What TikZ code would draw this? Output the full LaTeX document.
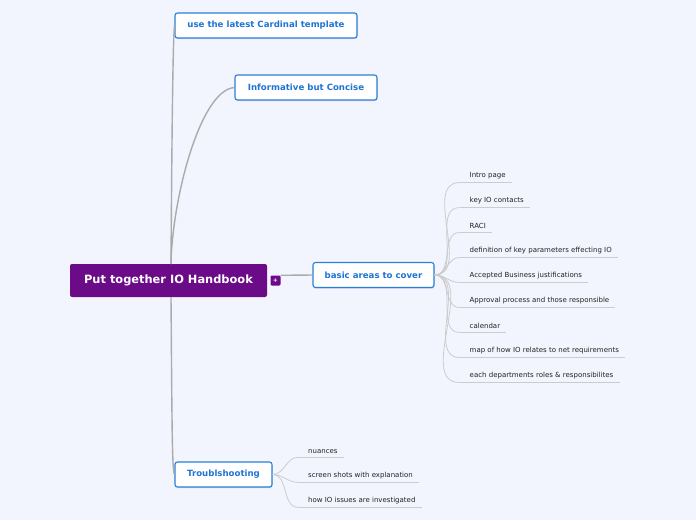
\documentclass[tikz,border=0pt]{standalone}
\usepackage{fontspec}
\setmainfont{DejaVu Sans}
\usetikzlibrary{shadows}
\definecolor{bgcol}{HTML}{F2F5FD}
\definecolor{rootcol}{HTML}{6B0B87}
\definecolor{boxcol}{HTML}{2B7FD8}
\definecolor{txtcol}{HTML}{1F74D3}
\definecolor{branchcol}{HTML}{ABABAB}
\definecolor{leafcol}{HTML}{CCCCCC}
\definecolor{leaftxt}{HTML}{222222}

\begin{document}
\begin{tikzpicture}[x=1pt,y=-1pt,
  rootbox/.style={fill=rootcol,text=white,rounded corners=2pt,font=\fontsize{11.4}{13}\selectfont\bfseries,minimum width=197pt,minimum height=33pt},
  topicbox/.style={draw=boxcol,line width=1.1pt,fill=white,text=txtcol,rounded corners=2.5pt,font=\fontsize{8.6}{10}\selectfont\bfseries,inner xsep=4pt,minimum height=25pt,drop shadow={shadow xshift=0.6pt,shadow yshift=-1.2pt,opacity=0.25}},
  leaf/.style={anchor=south west,text=leaftxt,font=\fontsize{7}{8}\selectfont,inner xsep=6pt,inner ysep=3.4pt},
  branch/.style={draw=branchcol,line width=1.4pt},
  twig/.style={draw=leafcol,line width=0.8pt}]
\useasboundingbox[fill=bgcol] (0,0) rectangle (696,520);

\node[rootbox] (root) at (168.5,280.5) {Put together IO Handbook};
\node[fill=rootcol,rounded corners=1.2pt,minimum size=10pt,inner sep=0pt,text=white,font=\fontsize{6}{6}\selectfont\bfseries] (plus) at (275.5,280.5) {+};

\node[topicbox,minimum width=182pt] (tmpl) at (266,25.5) {use the latest Cardinal template};
\node[topicbox,minimum width=142pt] (info) at (306,87.5) {Informative but Concise};
\node[topicbox,minimum width=121pt] (basic) at (373.5,275) {basic areas to cover};
\node[topicbox,minimum width=97pt] (trbl) at (223.5,474.5) {Troublshooting};

\coordinate (rtop) at (171,264);
\coordinate (rbot) at (171,297);

% main branches
\draw[branch] (rtop) .. controls (172,120) and (173,40) .. (tmpl.west);
\draw[branch] (rtop) .. controls (172,200) and (200,90) .. (info.west);
\draw[branch] (plus.north east) -- (basic.west);
\draw[branch] (rbot) .. controls (172,420) and (172,470) .. (trbl.west);

% basic areas
\foreach \t [count=\i] in {Intro page,key IO contacts,RACI,definition of key parameters effecting IO,Accepted Business justifications,Approval process and those responsible,calendar,map of how IO relates to net requirements,each departments roles \& responsibilites}{
  \node[leaf] (l\i) at (463.5,182.5+25*\i-25) {\t};
  \coordinate (u\i) at ([xshift=-4pt]l\i.south west);
  \draw[twig] (u\i) -- (l\i.south east);
  \draw[twig] (basic.east) to[out=0,in=180] (u\i);
}

% troubleshooting
\foreach \t [count=\i] in {nuances,screen shots with explanation,how IO issues are investigated}{
  \node[leaf] (t\i) at (302,457.3+25*\i-25) {\t};
  \coordinate (v\i) at ([xshift=-4pt]t\i.south west);
  \draw[twig] (v\i) -- (t\i.south east);
  \draw[twig] (trbl.east) to[out=0,in=180] (v\i);
}
\end{tikzpicture}
\end{document}
